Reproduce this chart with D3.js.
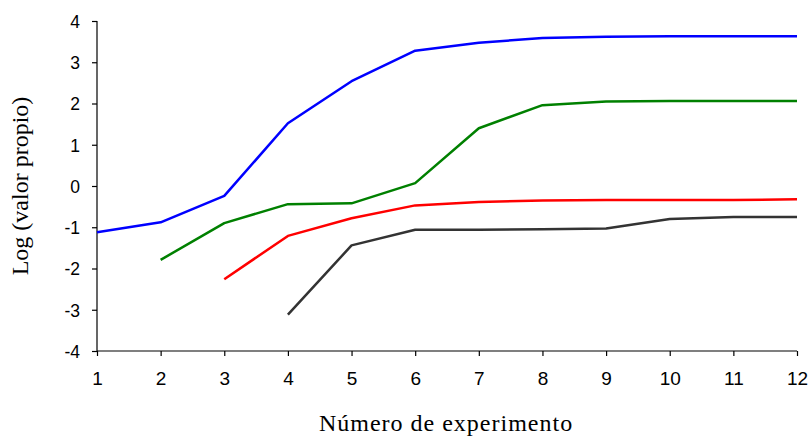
<!DOCTYPE html>
<html>
<head>
<meta charset="utf-8">
<script src="https://cdn.jsdelivr.net/npm/d3@7"></script>
<style>
  html, body { margin: 0; padding: 0; background: #fff; }
  svg { display: block; }
  .tick text { font-family: "Liberation Sans", Arial, sans-serif; fill: #000; }
  .axis-title { font-family: "Liberation Serif", "Times New Roman", serif; font-size: 24px; fill: #000; }
</style>
</head>
<body>
<svg id="chart" width="810" height="436"></svg>
<script>
// ── Datos ────────────────────────────────────────────────────────
const EXPERIMENTOS = [1, 2, 3, 4, 5, 6, 7, 8, 9, 10, 11, 12];
const Y_TICKS = [-4, -3, -2, -1, 0, 1, 2, 3, 4];

// null = sin valor para ese experimento
const SERIE_AZUL  = [-1.12, -0.88, -0.24, 1.52, 2.54, 3.28, 3.47, 3.59, 3.62, 3.63, 3.63, 3.63];
const SERIE_VERDE = [null, -1.79, -0.90, -0.44, -0.42, 0.07, 1.40, 1.96, 2.05, 2.06, 2.06, 2.06];
const SERIE_ROJA  = [null, null, -2.26, -1.21, -0.78, -0.47, -0.39, -0.35, -0.34, -0.34, -0.34, -0.32];
const SERIE_NEGRA = [null, null, null, -3.12, -1.44, -1.06, -1.06, -1.05, -1.03, -0.80, -0.75, -0.75];

const SERIES = [
  { valores: SERIE_AZUL,  color: "#0000ff" },
  { valores: SERIE_VERDE, color: "#008000" },
  { valores: SERIE_ROJA,  color: "#ff0000" },
  { valores: SERIE_NEGRA, color: "#333333" }
];

// ── Escalas ──────────────────────────────────────────────────────
const svg = d3.select("#chart");
const x = d3.scaleLinear().domain([1, 12]).range([97, 797]);
const y = d3.scaleLinear().domain([-4, 4]).range([351, 21]);

// guion normal en vez del signo menos unicode
const fmt = d => String(d);

// ── Ejes ─────────────────────────────────────────────────────────
const ejeY = svg.append("g")
  .attr("transform", "translate(97,0)")
  .call(d3.axisLeft(y).tickValues(Y_TICKS).tickSize(5).tickPadding(12).tickFormat(fmt));

const ejeX = svg.append("g")
  .attr("transform", "translate(0,351)")
  .call(d3.axisBottom(x).tickValues(EXPERIMENTOS).tickSize(5).tickPadding(16).tickFormat(fmt));

[ejeY, ejeX].forEach(g => {
  g.select(".domain").attr("stroke", "#000").attr("stroke-width", 1.2);
  g.selectAll(".tick line").attr("stroke", "#000").attr("stroke-width", 1.2);
});
// quitar el remate del dominio (outer ticks)
ejeY.select(".domain").attr("d", `M0,${y(-4)}V${y(4)}`);
ejeX.select(".domain").attr("d", `M${x(1)},0H${x(12)}`);
ejeY.selectAll(".tick text").attr("font-size", 17.5).attr("dy", "0.36em");
ejeX.selectAll(".tick text").attr("font-size", 19).attr("dy", "0.71em");

// ── Líneas ───────────────────────────────────────────────────────
const linea = d3.line()
  .defined(d => d[1] !== null)
  .x(d => x(d[0]))
  .y(d => y(d[1]));

SERIES.forEach(s => {
  svg.append("path")
    .datum(EXPERIMENTOS.map((e, i) => [e, s.valores[i]]))
    .attr("fill", "none")
    .attr("stroke", s.color)
    .attr("stroke-width", 2.5)
    .attr("stroke-linejoin", "round")
    .attr("d", linea);
});

// ── Títulos ──────────────────────────────────────────────────────
svg.append("text")
  .attr("class", "axis-title")
  .attr("x", 446).attr("y", 431)
  .attr("text-anchor", "middle")
  .attr("letter-spacing", 1)
  .text("Número de experimento");

svg.append("text")
  .attr("class", "axis-title")
  .attr("transform", "translate(28,186) rotate(-90)")
  .attr("text-anchor", "middle")
  .text("Log (valor propio)");
</script>
</body>
</html>
